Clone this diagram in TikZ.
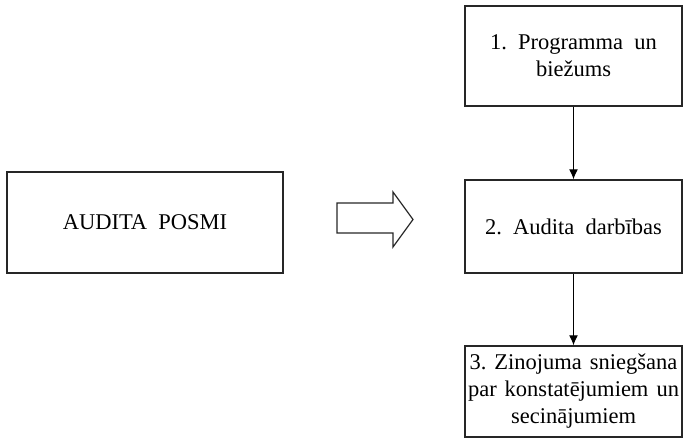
\documentclass[tikz,border=0pt]{standalone}
\usepackage{fontspec}
\setmainfont{Liberation Serif}
\usetikzlibrary{arrows.meta}

\newcommand{\gapW}{\hspace{8pt}}

\tikzset{
    stageBox/.style={draw=black!85, line width=1.4pt, align=center, inner sep=0pt,
        font=\fontsize{22.5}{27}\selectfont},
    stepLink/.style={line width=1.2pt, -{Latex[length=10pt,width=9pt]}}
}

\begin{document}
\begin{tikzpicture}[x=1pt, y=1pt]
    \useasboundingbox (0,0) rectangle (688,447);

    % Left box
    \node[stageBox, minimum width=276pt, minimum height=101pt] (posmi) at (145,224.5) {AUDITA\ \ POSMI};

    % Stage boxes on the right
    \node[stageBox, minimum width=217pt, minimum height=100pt] (prog) at (573.5,391) {1.\ \ Programma\ \ un\\bie\v{z}ums};
    \node[stageBox, minimum width=217pt, minimum height=93pt] (darb) at (573.5,220.5) {2.\ \ Audita\ \ darbības};
    \node[stageBox, minimum width=217pt, minimum height=91pt] (zin) at (573.5,55.5) {3.\gapW Zinojuma\gapW sniegšana\\par\gapW konstatējumiem\gapW un\\secinājumiem};

    % Links between stages
    \draw[stepLink] (prog.south) -- (darb.north);
    \draw[stepLink] (darb.south) -- (zin.north);

    % Hollow block arrow
    \coordinate (S1) at (337,244);
    \coordinate (S2) at (393,244);
    \coordinate (H1) at (393,255);
    \coordinate (T)  at (413,227.5);
    \coordinate (H2) at (393,200);
    \coordinate (S3) at (393,214);
    \coordinate (S4) at (337,214);
    \draw[line width=1.2pt, line join=miter, draw=black!85] (S1) -- (S2) -- (H1) -- (T) -- (H2) -- (S3) -- (S4) -- cycle;

\end{tikzpicture}
\end{document}
